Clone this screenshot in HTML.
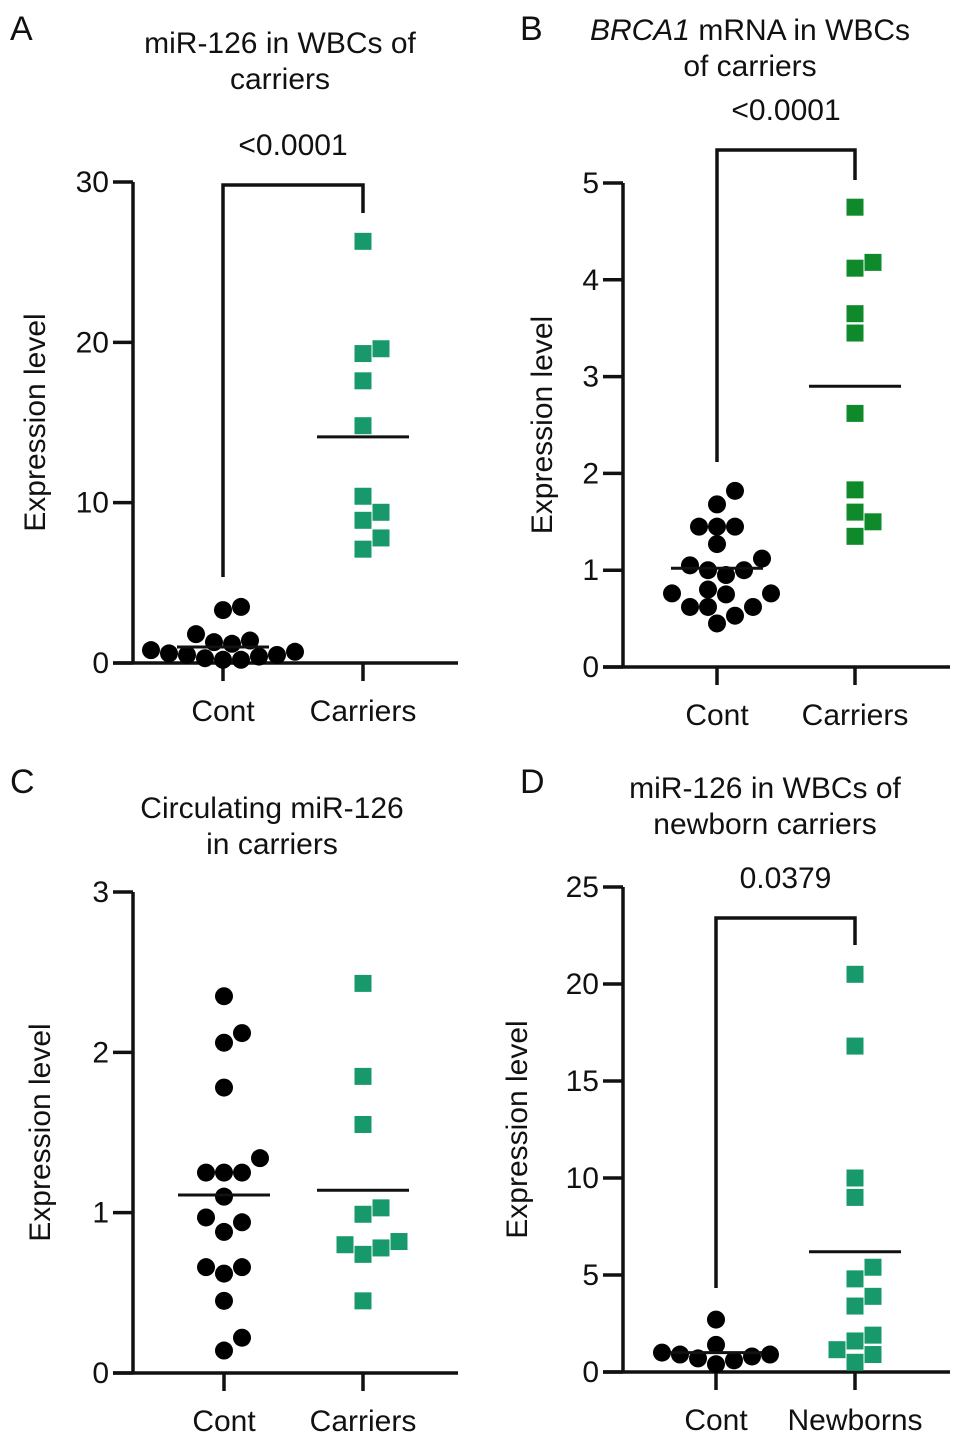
<!DOCTYPE html>
<html><head><meta charset="utf-8">
<style>
body{margin:0;background:#fff;}
svg{display:block;font-family:"Liberation Sans",Arial,sans-serif;}
</style></head>
<body>
<svg id="fig" width="969" height="1442" viewBox="0 0 969 1442"></svg>
<script>
// ---- Data ----
const categoriesA = ["Cont", "Carriers"];
const contA = [3.5, 3.3, 1.8, 1.4, 1.3, 1.2, 1.1, 1.0, 1.0, 0.9, 0.8, 0.8, 0.7, 0.6, 0.5, 0.5, 0.4, 0.3, 0.2, 0.2];
const carriersA = [26.3, 19.6, 19.3, 17.6, 14.8, 10.4, 9.4, 8.9, 7.8, 7.1];
const meanA = [1.0, 14.1];
const ticksA = [0, 10, 20, 30];

const categoriesB = ["Cont", "Carriers"];
const contB = [1.82, 1.68, 1.45, 1.45, 1.45, 1.27, 1.12, 1.05, 1.0, 1.0, 0.95, 0.8, 0.76, 0.76, 0.75, 0.62, 0.62, 0.62, 0.53, 0.45];
const carriersB = [4.75, 4.18, 4.12, 3.65, 3.45, 2.62, 1.83, 1.6, 1.5, 1.35];
const meanB = [1.02, 2.9];
const ticksB = [0, 1, 2, 3, 4, 5];

const categoriesC = ["Cont", "Carriers"];
const contC = [2.35, 2.12, 2.06, 1.78, 1.34, 1.25, 1.25, 1.25, 1.1, 0.97, 0.94, 0.88, 0.66, 0.66, 0.62, 0.45, 0.22, 0.14];
const carriersC = [2.43, 1.85, 1.55, 1.03, 0.99, 0.82, 0.8, 0.78, 0.74, 0.45];
const meanC = [1.11, 1.14];
const ticksC = [0, 1, 2, 3];

const categoriesD = ["Cont", "Newborns"];
const contD = [2.7, 1.4, 1.0, 0.9, 0.9, 0.8, 0.7, 0.6, 0.4];
const newbornsD = [20.5, 16.8, 10.0, 9.0, 5.4, 4.8, 3.9, 3.4, 1.9, 1.6, 1.15, 0.9, 0.5];
const meanD = [1.0, 6.2];
const ticksD = [0, 5, 10, 15, 20, 25];

// ---- Layout ----
const NS = "http://www.w3.org/2000/svg";
const svg = document.getElementById("fig");
const FS = 30;
function mk(tag, attrs, parent, text){
  const e = document.createElementNS(NS, tag);
  for (const k in attrs) e.setAttribute(k, attrs[k]);
  if (text !== undefined) e.textContent = text;
  (parent || svg).appendChild(e);
  return e;
}

function beeswarm(vals, yf, d){
  const placed = [];
  const sorted = vals.map((v,i)=>({v,i})).sort((a,b)=>a.v-b.v);
  const out = new Array(vals.length);
  sorted.forEach(p=>{
    const y = yf(p.v);
    const order = [0];
    for (let k=1;k<10;k++){ order.push(k); order.push(-k); }
    for (const k of order){
      const x = k*d*0.5;
      let ok = placed.every(q => Math.hypot(q.x-x, q.y-y) >= d*0.95);
      if (ok){ placed.push({x,y}); out[p.i]={dx:x,y}; break; }
    }
  });
  return out;
}

function panel(cfg){
  const g = mk("g", {}, svg);
  
  
  const y = v => cfg.y0 - v / cfg.max * (cfg.y0 - cfg.yTop);
  const L = mk("text", {x: cfg.lx, y: cfg.ly, "font-size": 34, fill: "#111"}, g, cfg.letter);
  
  
  cfg.title.forEach((t, i) => {
    const T = mk("text", {x: cfg.tx, y: cfg.ty + i*36, "font-size": FS, "text-anchor": "middle", fill: "#111"}, g);
    
    
    if (t.italic){
      mk("tspan", {"font-style":"italic"}, T, t.italic);
      mk("tspan", {}, T, t.rest);
    } else T.textContent = t;
  });
  const ax = mk("path", {d:`M${cfg.ax} ${y(cfg.max)} V${cfg.y0} M${cfg.ax-20} ${cfg.y0} H${cfg.xEnd}`, stroke:"#111","stroke-width":3.5, fill:"none"}, g);
  
  
  cfg.ticks.forEach(t => {
    const ty = y(t);
    const tk = mk("line", {x1: cfg.ax-20, x2: cfg.ax, y1: ty, y2: ty, stroke:"#111","stroke-width":3.5}, g);
    
    
    const tl = mk("text", {x: cfg.ax-24, y: ty+10, "font-size": FS, "text-anchor":"end", fill:"#111"}, g, String(t));
    
    
  });
  const yt = mk("text", {x: 0, y: 0, "font-size": FS, "text-anchor":"middle", fill:"#111", transform:`translate(${cfg.ytx},${(cfg.y0+y(cfg.max))/2}) rotate(-90)`}, g, "Expression level");
  
  
  cfg.cats.forEach((c, i) => {
    const cx = cfg.cx[i];
    const xt = mk("line", {x1: cx, x2: cx, y1: cfg.y0, y2: cfg.y0+18, stroke:"#111","stroke-width":3.5}, g);
    
    
    const xl = mk("text", {x: cx, y: cfg.y0+58, "font-size": FS, "text-anchor":"middle", fill:"#111"}, g, c);
    
    
  });
  if (cfg.p){
    const br = mk("path", {d:`M${cfg.cx[0]} ${cfg.bl} V${cfg.bTop} H${cfg.cx[1]} V${cfg.br}`, stroke:"#111","stroke-width":3.5, fill:"none"}, g);
    
    
    const pt = mk("text", {x:(cfg.cx[0]+cfg.cx[1])/2, y: cfg.bTop-30, "font-size": FS, "text-anchor":"middle", fill:"#111"}, g, cfg.p);
    
    
  }
  [cfg.s0, cfg.s1].forEach((vals, gi) => {
    const pos = beeswarm(vals, y, 18);
    pos.forEach(p => {
      let m;
      if (gi === 0){
        m = mk("circle", {cx: cfg.cx[0]+p.dx, cy: p.y, r: 9, fill: "#000"}, g);
        
      } else {
        m = mk("rect", {x: cfg.cx[1]+p.dx-8.5, y: p.y-8.5, width: 17, height: 17, fill: cfg.green}, g);
        
      }
      
    });
  });
  cfg.means.forEach((mv, i) => {
    const ml = mk("line", {x1: cfg.cx[i]-46, x2: cfg.cx[i]+46, y1: y(mv), y2: y(mv), stroke:"#111","stroke-width":3}, g);
    
    
  });
}

panel({name:"panel-a", letter:"A", lx:10, ly:40, title:["miR-126 in WBCs of","carriers"], tx:280, ty:53,
  ax:133, y0:663, yTop:182, max:30, ticks:ticksA, xEnd:458, ytx:45, cats:categoriesA, cx:[223,363],
  s0:contA, s1:carriersA, means:meanA, green:"#17996b", p:"<0.0001", bTop:185, bl:577, br:213});
panel({name:"panel-b", letter:"B", lx:520, ly:40, title:[{italic:"BRCA1",rest:" mRNA in WBCs"},"of carriers"], tx:750, ty:40,
  ax:623, y0:667, yTop:183, max:5, ticks:ticksB, xEnd:950, ytx:552, cats:categoriesB, cx:[717,855],
  s0:contB, s1:carriersB, means:meanB, green:"#0f8a2a", p:"<0.0001", bTop:150, bl:462, br:180});
panel({name:"panel-c", letter:"C", lx:10, ly:793, title:["Circulating miR-126","in carriers"], tx:272, ty:818,
  ax:133, y0:1373, yTop:892, max:3, ticks:ticksC, xEnd:458, ytx:50, cats:categoriesC, cx:[224,363],
  s0:contC, s1:carriersC, means:meanC, green:"#17996b"});
panel({name:"panel-d", letter:"D", lx:520, ly:793, title:["miR-126 in WBCs of","newborn carriers"], tx:765, ty:798,
  ax:623, y0:1372, yTop:887, max:25, ticks:ticksD, xEnd:950, ytx:527, cats:categoriesD, cx:[716,855],
  s0:contD, s1:newbornsD, means:meanD, green:"#17996b", p:"0.0379", bTop:918, bl:1288, br:945});
</script>
</body></html>
